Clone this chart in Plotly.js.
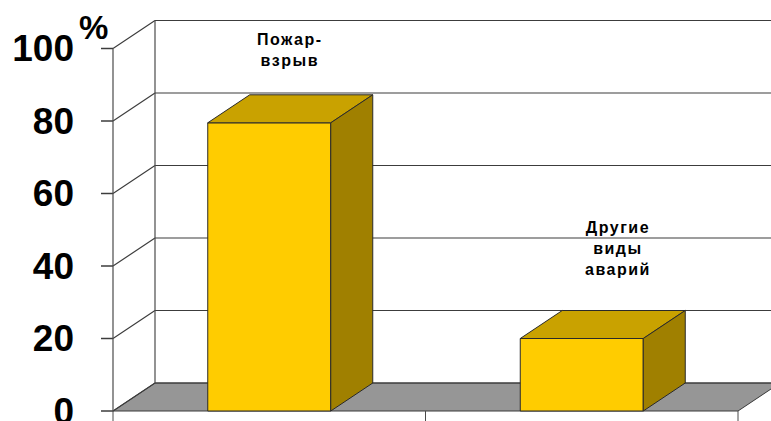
<!DOCTYPE html>
<html>
<head>
<meta charset="utf-8">
<script src="https://cdn.plot.ly/plotly-3.0.1.min.js"></script>
<style>
  html, body { margin: 0; padding: 0; background: #ffffff; }
  #chart { width: 771px; height: 421px; }
  .annotation-text { letter-spacing: 1.5px; }
</style>
</head>
<body>
<div id="chart"></div>
<script>
// ---- data ----
const categories = ['Пожар-взрыв', 'Другие виды аварий'];
const categoryLabels = ['Пожар-<br>взрыв', 'Другие<br>виды<br>аварий'];
const values = [79.5, 20];
const yTickVals = [0, 20, 40, 60, 80, 100];
const yTickText = ['0', '20', '40', '60', '80', '100'];

// ---- geometry (axis units) ----
const PX_X = 312.5;          // pixels per category
const PX_Y = 3.625;          // pixels per percent
const X0 = -0.5, X1 = 1.5;   // front edge of the floor
const DX = 42 / PX_X;        // depth offset (x)
const DY = 28 / PX_Y;        // depth offset (y)
const BAR_W = 123 / PX_X;
const XMIN = X0 - 13 / PX_X, XMAX = X0 + (771 - 113) / PX_X;
const YMIN = -10 / PX_Y, YMAX = (411 - 10) / PX_Y;

const FRONT = '#FFCC00', TOP = '#C9A200', SIDE = '#A08000';
const EDGE = '#2a2a2a';

const xIdx = categories.map((c, i) => i);

const traces = [];
traces.push({
  type: 'bar', x: xIdx, y: values, width: BAR_W,
  marker: { color: FRONT, line: { color: EDGE, width: 1 } },
  hoverinfo: 'skip', showlegend: false
});
values.forEach((v, i) => {
  const l = i - BAR_W / 2, r = i + BAR_W / 2;
  traces.push({
    type: 'scatter', mode: 'lines', fill: 'toself', fillcolor: TOP,
    x: [l, r, r + DX, l + DX, l], y: [v, v, v + DY, v + DY, v],
    line: { color: EDGE, width: 1 }, hoverinfo: 'skip', showlegend: false
  });
  traces.push({
    type: 'scatter', mode: 'lines', fill: 'toself', fillcolor: SIDE,
    x: [r, r + DX, r + DX, r, r], y: [0, DY, v + DY, v, 0],
    line: { color: EDGE, width: 1 }, hoverinfo: 'skip', showlegend: false
  });
});

const shapes = [];
function line(x0, y0, x1, y1, color, width, dash) {
  shapes.push({ type: 'line', xref: 'x', yref: 'y', layer: 'below', x0, y0, x1, y1,
    line: { color: color, width: width, dash: dash || 'solid' } });
}
// floor
shapes.push({ type: 'path', xref: 'x', yref: 'y', layer: 'below',
  path: `M ${X0},0 L ${X1},0 L ${X1 + DX},${DY} L ${X0 + DX},${DY} Z`,
  fillcolor: '#969696', line: { color: '#3a3a3a', width: 1 } });
// back wall gridlines & left wall diagonals
yTickVals.forEach(v => {
  line(X0 + DX, v + DY, XMAX + 0.1, v + DY, '#3c3c3c', 1.2);
  line(X0, v, X0 + DX, v + DY, '#3c3c3c', 1.2);
  line(X0 - 12 / PX_X, v, X0, v, '#3c3c3c', 1.5);
});
// back wall left edge and front axis
line(X0 + DX, DY, X0 + DX, 100 + DY, '#4a4a4a', 1.2);
line(X0, 0, X0, 100, '#4a4a4a', 1.2);
// x-axis ticks at category boundaries
[-0.5, 0.5, 1.5].forEach(t => line(t, 0, t, YMIN, '#4a4a4a', 1));

const annotations = [
  { xref: 'paper', yref: 'paper', x: (94 - 100) / 671, y: (421 - 28) / 411,
    text: '%', showarrow: false, xanchor: 'center', yanchor: 'middle',
    font: { family: 'Liberation Sans, Arial, sans-serif', size: 33, weight: 'bold', color: '#000' } },
  { xref: 'x', yref: 'y', x: 0 + 21 / PX_X, y: (411 - 50) / PX_Y,
    text: categoryLabels[0], showarrow: false, xanchor: 'center', yanchor: 'middle',
    font: { family: 'Liberation Sans, Arial, sans-serif', size: 16, weight: 'bold', color: '#000' } },
  { xref: 'x', yref: 'y', x: 1 + 36 / PX_X, y: (411 - 248) / PX_Y,
    text: categoryLabels[1], showarrow: false, xanchor: 'center', yanchor: 'middle',
    font: { family: 'Liberation Sans, Arial, sans-serif', size: 16, weight: 'bold', color: '#000' } }
];

const layout = {
  width: 771, height: 421,
  margin: { l: 100, r: 0, t: 10, b: 0, pad: 0 },
  paper_bgcolor: '#ffffff', plot_bgcolor: '#ffffff',
  showlegend: false,
  xaxis: { range: [XMIN, XMAX], showgrid: false, zeroline: false, showline: false,
           showticklabels: false, ticks: '', fixedrange: true },
  yaxis: { range: [YMIN, YMAX], showgrid: false, zeroline: false, showline: false,
           tickmode: 'array', tickvals: yTickVals, ticktext: yTickText, ticks: '',
           ticklabelstandoff: 25, ticklabeloverflow: 'allow',
           tickfont: { family: 'Liberation Sans, Arial, sans-serif', size: 37, weight: 'bold', color: '#000' },
           fixedrange: true },
  shapes: shapes,
  annotations: annotations
};

Plotly.newPlot('chart', traces, layout, { displayModeBar: false, staticPlot: true });
</script>
</body>
</html>
